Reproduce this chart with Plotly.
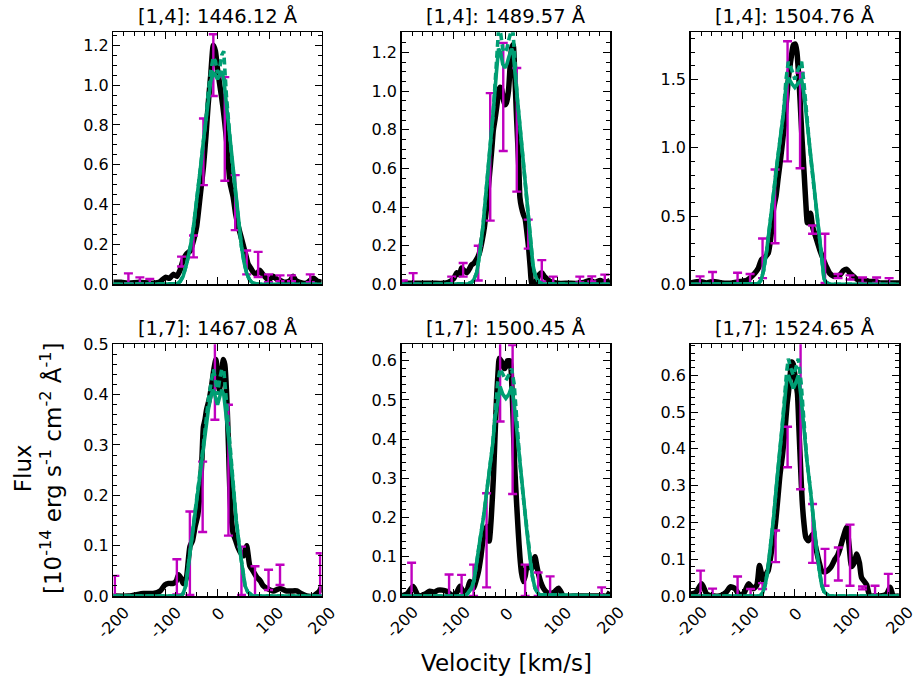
import plotly.graph_objects as go

W, H = 919, 683
BLACK = "black"
MAG = "#bf00bf"
GREEN = "#009e73"
FONT = "DejaVu Sans"

titles = ["[1,4]: 1446.12 Å", "[1,4]: 1489.57 Å", "[1,4]: 1504.76 Å",
          "[1,7]: 1467.08 Å", "[1,7]: 1500.45 Å", "[1,7]: 1524.65 Å"]
x_ticks = [-200, -100, 0, 100, 200]
x_tick_labels = ["-200", "-100", "0", "100", "200"]

# ---------------- Panel 1: [1,4] 1446.12 ----------------
p1_vel = [-200, -185, -170, -150, -130, -112, -100, -92, -85, -78, -72, -66, -60, -52, -46, -40, -33, -27, -22, -18,
          -13, -8, -4, 0, 5, 10, 14, 19, 24, 30, 35, 40, 45, 50, 55, 59, 64, 69, 75, 81, 87, 94, 100, 107, 114, 120,
          130, 140, 145, 150, 158, 170, 184, 192, 200]
p1_flux = [0.01, 0.01, 0.005, 0.01, 0.005, 0.01, 0.035, 0.03, 0.05, 0.04, 0.07, 0.12, 0.15, 0.17, 0.22, 0.29, 0.45,
           0.59, 0.75, 0.9, 1.05, 1.2, 1.17, 1.08, 0.99, 0.9, 0.81, 0.68, 0.51, 0.44, 0.35, 0.29, 0.24, 0.19, 0.14,
           0.1, 0.08, 0.06, 0.05, 0.07, 0.05, 0.03, 0.025, 0.04, 0.025, 0.02, 0.01, 0.02, 0.04, 0.02, 0.01, 0.005,
           0.03, 0.015, 0.01]
p1_err_vel = [-171, -149, -130, -69, -46, -27, -8, 14, 34, 56, 78, 98, 120, 142, 178]
p1_err_flux = [0.03, 0.02, 0.015, 0.114, 0.19, 0.665, 1.1, 0.78, 0.41, 0.11, 0.1, 0.03, 0.03, 0.03, 0.03]
p1_err = [0.025, 0.015, 0.012, 0.025, 0.055, 0.167, 0.155, 0.26, 0.138, 0.06, 0.063, 0.02, 0.015, 0.015, 0.02]
p1_mod_vel = [-200, -85, -78, -72, -66, -59, -52, -46, -40, -37, -32, -27, -22, -18, -13, -8, -4, 0, 4, 8, 12, 17,
              22, 27, 32, 37, 42, 46, 51, 56, 61, 66, 72, 80, 200]
p1_mod_solid = [0, 0, 0.003, 0.013, 0.04, 0.105, 0.19, 0.29, 0.41, 0.49, 0.6, 0.72, 0.83, 0.94, 1.02, 1.06, 1.05,
                1.03, 1.05, 1.07, 1.03, 0.9, 0.78, 0.64, 0.52, 0.39, 0.28, 0.19, 0.11, 0.055, 0.025, 0.01, 0.004, 0, 0]
p1_mod_dash = [0, 0, 0.003, 0.013, 0.04, 0.105, 0.19, 0.29, 0.41, 0.49, 0.6, 0.72, 0.83, 0.96, 1.07, 1.14, 1.12,
               1.06, 1.08, 1.15, 1.17, 0.95, 0.78, 0.64, 0.52, 0.39, 0.28, 0.19, 0.11, 0.055, 0.025, 0.01, 0.004, 0, 0]

# ---------------- Panel 2: [1,4] 1489.57 ----------------
p2_vel = [-200, -180, -160, -140, -120, -110, -100, -94, -89, -85, -80, -75, -70, -66, -61, -56, -51, -46, -41, -37,
          -32, -27, -24, -21, -17, -14, -11, -8, -5, -2, 1, 5, 8, 11, 14, 17, 20, 22, 25, 27, 30, 34, 37, 40, 44, 47,
          50, 54, 59, 64, 69, 74, 78, 85, 91, 100, 120, 140, 150, 162, 170, 181, 190, 200]
p2_flux = [0.005, 0.005, 0.005, 0.005, 0.005, 0.01, 0.03, 0.06, 0.05, 0.085, 0.07, 0.06, 0.08, 0.1, 0.11, 0.13, 0.16,
           0.22, 0.3, 0.4, 0.55, 0.7, 0.8, 0.85, 0.93, 1.0, 1.02, 1.01, 0.96, 0.93, 0.94, 1.0, 1.12, 1.22, 1.24, 1.1,
           0.9, 0.78, 0.6, 0.45, 0.4, 0.36, 0.34, 0.28, 0.18, 0.08, 0.0, 0.0, 0.02, 0.05, 0.06, 0.04, 0.03, 0.015,
           0.01, 0.005, 0.005, 0.005, 0.01, 0.02, 0.01, 0.02, 0.01, 0.02]
p2_err_vel = [-197, -178, -104, -82, -53, -30, -5, 21, 43, 69, 91, 142, 165, 190]
p2_err_flux = [0.01, 0.03, 0.02, 0.075, 0.11, 0.66, 0.97, 0.8, 0.26, 0.07, 0.02, 0.025, 0.028, 0.025]
p2_err = [0.01, 0.028, 0.02, 0.035, 0.09, 0.33, 0.28, 0.32, 0.075, 0.055, 0.02, 0.015, 0.013, 0.025]
p2_mod_vel = [-200, -80, -72, -66, -62, -56, -50, -44, -37, -30, -24, -18, -14, -10, -6, -2, 2, 6, 11, 14, 18, 22,
              27, 33, 40, 46, 52, 56, 59, 64, 70, 200]
p2_mod_solid = [0, 0, 0.003, 0.01, 0.02, 0.06, 0.16, 0.3, 0.5, 0.72, 0.9, 1.1, 1.22, 1.2, 1.14, 1.12, 1.14, 1.18,
                1.22, 1.2, 1.08, 0.96, 0.82, 0.65, 0.44, 0.26, 0.1, 0.05, 0.03, 0.01, 0.003, 0]
p2_mod_dash = [0, 0, 0.003, 0.01, 0.02, 0.06, 0.16, 0.3, 0.5, 0.72, 0.9, 1.15, 1.32, 1.3, 1.22, 1.2, 1.22, 1.27,
               1.32, 1.3, 1.1, 0.96, 0.82, 0.65, 0.44, 0.26, 0.1, 0.05, 0.03, 0.01, 0.003, 0]

# ---------------- Panel 3: [1,4] 1504.76 ----------------
p3_vel = [-200, -182, -170, -157, -140, -120, -105, -92, -85, -77, -70, -64, -57, -51, -46, -41, -36, -32, -27, -22,
          -17, -12, -7, -3, 1, 4, 7, 10, 14, 18, 21, 24, 27, 30, 34, 39, 44, 48, 55, 61, 67, 74, 80, 87, 93, 100,
          106, 112, 118, 125, 135, 144, 155, 164, 175, 189, 200]
p3_flux = [0.01, 0.02, 0.01, 0.02, 0.01, 0.01, 0.02, 0.03, 0.05, 0.08, 0.12, 0.18, 0.2, 0.23, 0.35, 0.55, 0.65, 0.78,
           0.93, 1.1, 1.3, 1.52, 1.66, 1.75, 1.76, 1.7, 1.55, 1.35, 1.05, 0.8, 0.6, 0.45, 0.5, 0.52, 0.42, 0.36, 0.3,
           0.25, 0.18, 0.125, 0.08, 0.06, 0.06, 0.07, 0.1, 0.11, 0.08, 0.06, 0.04, 0.03, 0.03, 0.02, 0.02, 0.01,
           0.01, 0.01, 0.01]
p3_err_vel = [-182, -158, -110, -86, -62, -38, -14, 10, 34, 58, 83, 106, 130, 157, 181]
p3_err_flux = [0.03, 0.045, 0.045, 0.04, 0.19, 0.57, 1.34, 1.2, 0.4, 0.19, 0.06, 0.05, 0.03, 0.03, 0.025]
p3_err = [0.028, 0.045, 0.04, 0.035, 0.145, 0.27, 0.44, 0.35, 0.03, 0.18, 0.015, 0.015, 0.02, 0.02, 0.02]
p3_mod_vel = [-200, -75, -70, -65, -60, -54, -48, -41, -35, -28, -22, -17, -12.5, -6, 0, 6, 13, 18, 23, 29, 35.5,
              42, 48, 52, 56, 60, 64, 70, 200]
p3_mod_solid = [0, 0, 0.005, 0.03, 0.1, 0.25, 0.42, 0.66, 0.86, 1.05, 1.25, 1.45, 1.51, 1.47, 1.44, 1.47, 1.5, 1.38,
                1.2, 0.98, 0.75, 0.52, 0.3, 0.15, 0.04, 0.015, 0.005, 0, 0]
p3_mod_dash = [0, 0, 0.005, 0.03, 0.1, 0.25, 0.42, 0.66, 0.86, 1.05, 1.25, 1.5, 1.63, 1.57, 1.5, 1.57, 1.63, 1.45,
               1.2, 0.98, 0.75, 0.52, 0.3, 0.15, 0.04, 0.015, 0.005, 0, 0]

# ---------------- Panel 4: [1,7] 1467.08 ----------------
p4_vel = [-200, -170, -142, -123, -110, -101, -94, -85, -79, -75, -70, -66, -62, -59, -53, -48, -43, -38, -34, -30,
          -27, -24, -21, -16, -11, -7, -3, 0, 3.5, 7, 11, 14, 17.6, 21, 24, 27, 30, 35, 40, 45, 50, 53, 56, 59, 62,
          68, 75, 82, 88, 95, 107, 120, 133, 142, 152, 160, 171, 184, 196, 200]
p4_flux = [0.0, 0.0, 0.005, 0.005, 0.01, 0.022, 0.025, 0.025, 0.03, 0.042, 0.035, 0.025, 0.03, 0.04, 0.098, 0.11,
           0.138, 0.16, 0.2, 0.27, 0.336, 0.35, 0.37, 0.39, 0.42, 0.45, 0.47, 0.44, 0.41, 0.43, 0.47, 0.46, 0.4, 0.3,
           0.2, 0.15, 0.125, 0.11, 0.095, 0.085, 0.08, 0.09, 0.1, 0.08, 0.06, 0.05, 0.038, 0.03, 0.02, 0.015, 0.01,
           0.015, 0.01, 0.01, 0.01, 0.005, 0.0, 0.0, 0.01, 0.02]
p4_err_vel = [-197, -78, -53, -28.5, -5, 21, 46, 72, 98, 120, 197]
p4_err_flux = [0.02, 0.038, 0.085, 0.197, 0.45, 0.25, 0.05, 0.03, 0.032, 0.042, 0.043]
p4_err = [0.02, 0.035, 0.083, 0.07, 0.1, 0.13, 0.048, 0.029, 0.02, 0.02, 0.042]
p4_mod_vel = [-200, -70, -66, -61, -56, -50, -43, -35, -27, -17.6, -12, -8, -4, 0, 4, 8, 12, 17.6, 24, 30, 36, 43,
              48, 53, 58, 62, 68, 200]
p4_mod_solid = [0, 0, 0.005, 0.02, 0.06, 0.11, 0.16, 0.23, 0.3, 0.37, 0.4, 0.41, 0.395, 0.38, 0.395, 0.41, 0.4,
                0.35, 0.29, 0.22, 0.15, 0.09, 0.05, 0.02, 0.008, 0.004, 0, 0]
p4_mod_dash = [0, 0, 0.005, 0.02, 0.06, 0.11, 0.16, 0.23, 0.3, 0.39, 0.43, 0.45, 0.43, 0.4, 0.43, 0.45, 0.45, 0.38,
               0.29, 0.22, 0.15, 0.09, 0.05, 0.02, 0.008, 0.004, 0, 0]

# ---------------- Panel 5: [1,7] 1500.45 ----------------
p5_vel = [-200, -190, -178, -168, -155, -146, -138, -130, -122, -114, -107, -101, -94, -88, -82, -78, -73, -69, -65,
          -62, -57, -53, -48, -43, -37, -32, -28, -24, -21, -18, -15, -12.5, -9, -6, -3, 0, 3, 5, 8, 10, 12, 14, 17,
          21, 24, 27, 30, 33.6, 37, 40, 45, 50, 53, 56, 59, 62, 67, 72, 78, 85, 93, 101, 106, 110, 130, 160, 185,
          194, 200]
p5_flux = [0, 0.005, 0.024, 0.0, 0.005, 0.012, 0.01, 0.015, 0.015, 0.012, 0.005, 0.0, 0.01, 0.025, 0.01, 0.005,
           0.02, 0.037, 0.03, 0.02, 0.04, 0.06, 0.1, 0.151, 0.177, 0.14, 0.2, 0.3, 0.4, 0.5, 0.57, 0.606, 0.6, 0.59,
           0.58, 0.585, 0.6, 0.6, 0.6, 0.58, 0.52, 0.45, 0.33, 0.228, 0.16, 0.1, 0.06, 0.037, 0.05, 0.07, 0.075,
           0.07, 0.085, 0.1, 0.08, 0.06, 0.035, 0.02, 0.01, 0.005, 0.01, 0.02, 0.01, 0.0, 0.0, 0.0, 0.0, 0.0, 0.01]
p5_err_vel = [-181, -109, -85, -62, -37, -11, 13, 37, 62, 85, 184]
p5_err_flux = [0.043, 0.028, 0.027, 0.04, 0.142, 0.55, 0.45, 0.04, 0.03, 0.025, 0.011]
p5_err = [0.042, 0.027, 0.027, 0.04, 0.12, 0.105, 0.19, 0.04, 0.03, 0.025, 0.011]
p5_mod_vel = [-200, -82, -74, -66, -61, -56, -50, -43, -37, -30, -25, -21, -16, -11, -6, 0, 6, 11, 16, 21, 27,
              33.6, 40, 46, 51, 56, 61, 66, 200]
p5_mod_solid = [0, 0, 0.005, 0.02, 0.04, 0.08, 0.14, 0.2, 0.26, 0.33, 0.39, 0.45, 0.5, 0.534, 0.515, 0.504, 0.515,
                0.534, 0.49, 0.42, 0.34, 0.25, 0.17, 0.1, 0.05, 0.02, 0.008, 0.003, 0]
p5_mod_dash = [0, 0, 0.005, 0.02, 0.04, 0.08, 0.14, 0.2, 0.26, 0.33, 0.39, 0.46, 0.54, 0.58, 0.565, 0.55, 0.565,
               0.58, 0.54, 0.44, 0.34, 0.25, 0.17, 0.1, 0.05, 0.02, 0.008, 0.003, 0]

# ---------------- Panel 6: [1,7] 1524.65 ----------------
p6_vel = [-200, -190, -179, -169, -155, -144, -132, -124, -115, -105, -97, -89, -80, -73, -68, -64, -60, -55, -51,
          -45, -38, -33, -28.5, -24, -19, -15, -12.5, -9, -6, -3, 0, 3, 5, 8, 11, 14, 17.6, 21, 26, 31, 35.5, 39, 42,
          47, 51.5, 58, 64, 70, 77, 82, 87, 93, 99.5, 104, 109, 114, 119, 124, 128, 133, 138, 144, 155, 164, 176,
          183, 189, 200]
p6_flux = [0.005, 0.01, 0.033, 0.005, 0.0, 0.0, 0.01, 0.025, 0.02, 0.0, 0.01, 0.033, 0.02, 0.03, 0.083, 0.06, 0.04,
           0.06, 0.07, 0.12, 0.187, 0.26, 0.33, 0.38, 0.45, 0.52, 0.55, 0.6, 0.636, 0.63, 0.6, 0.57, 0.55, 0.45,
           0.35, 0.26, 0.196, 0.16, 0.15, 0.16, 0.169, 0.14, 0.12, 0.09, 0.069, 0.065, 0.07, 0.08, 0.1, 0.11, 0.13,
           0.16, 0.187, 0.14, 0.08, 0.09, 0.114, 0.09, 0.05, 0.04, 0.03, 0.0, 0.0, 0.0, 0.005, 0.024, 0.0, 0.0]
p6_err_vel = [-181, -158, -110, -85, -62, -37, -14, 11, 34, 58, 83.5, 106, 130, 154, 179.5]
p6_err_flux = [0.035, 0.01, 0.027, 0.01, 0.027, 0.135, 0.405, 0.49, 0.17, 0.078, 0.087, 0.111, 0.022, 0.014, 0.03]
p6_err = [0.034, 0.01, 0.026, 0.009, 0.008, 0.043, 0.055, 0.2, 0.08, 0.05, 0.045, 0.083, 0.004, 0.014, 0.03]
p6_mod_vel = [-200, -67, -62, -57, -52, -48, -41, -35, -25, -15.7, -12.5, -8, -3, 2, 6.7, 12, 17.6, 23, 29, 35, 42,
              47, 51.5, 56, 61, 66, 200]
p6_mod_solid = [0, 0, 0.008, 0.03, 0.07, 0.12, 0.21, 0.305, 0.45, 0.586, 0.6, 0.58, 0.564, 0.58, 0.6, 0.54, 0.45,
                0.37, 0.3, 0.21, 0.123, 0.07, 0.03, 0.012, 0.005, 0, 0]
p6_mod_dash = [0, 0, 0.008, 0.03, 0.07, 0.12, 0.21, 0.305, 0.45, 0.61, 0.645, 0.62, 0.6, 0.62, 0.645, 0.58, 0.46,
               0.37, 0.3, 0.21, 0.123, 0.07, 0.03, 0.012, 0.005, 0, 0]

y_max = [1.265, 1.305, 1.845, 0.5, 0.642, 0.684]
y_dtick = [0.2, 0.2, 0.5, 0.1, 0.1, 0.1]
y_minor = [0.05, 0.05, 0.1, 0.02, 0.02, 0.02]

panels = [
    (p1_vel, p1_flux, p1_err_vel, p1_err_flux, p1_err, p1_mod_vel, p1_mod_solid, p1_mod_dash),
    (p2_vel, p2_flux, p2_err_vel, p2_err_flux, p2_err, p2_mod_vel, p2_mod_solid, p2_mod_dash),
    (p3_vel, p3_flux, p3_err_vel, p3_err_flux, p3_err, p3_mod_vel, p3_mod_solid, p3_mod_dash),
    (p4_vel, p4_flux, p4_err_vel, p4_err_flux, p4_err, p4_mod_vel, p4_mod_solid, p4_mod_dash),
    (p5_vel, p5_flux, p5_err_vel, p5_err_flux, p5_err, p5_mod_vel, p5_mod_solid, p5_mod_dash),
    (p6_vel, p6_flux, p6_err_vel, p6_err_flux, p6_err, p6_mod_vel, p6_mod_solid, p6_mod_dash),
]

# layout geometry (window pixels)
col_px = [(113.3, 321.7), (401.7, 610.0), (690.7, 899.0)]
row_px = [(32.3, 284.3), (344.3, 596.0)]


def px_x(px):
    return px / W


def px_y(px):
    return 1 - px / H


fig = go.Figure()
layout = dict(
    width=W, height=H, margin=dict(l=0, r=0, t=0, b=0, autoexpand=False),
    plot_bgcolor="white", paper_bgcolor="white",
    font=dict(family=FONT, color="black", size=16),
    showlegend=False, hovermode=False,
)
annotations = []

for i, (bv, bf, ev, ey, ee, mv, ms, md) in enumerate(panels):
    r, c = divmod(i, 3)
    xa = "x" if i == 0 else f"x{i+1}"
    ya = "y" if i == 0 else f"y{i+1}"
    fig.add_trace(go.Scatter(x=bv, y=bf, mode="lines", xaxis=xa, yaxis=ya,
                             line=dict(color=BLACK, width=5.5, shape="spline", smoothing=0.6)))
    fig.add_trace(go.Scatter(x=ev, y=ey, mode="markers", xaxis=xa, yaxis=ya,
                             marker=dict(size=1, color="rgba(0,0,0,0)"),
                             error_y=dict(type="data", array=ee, color=MAG, thickness=2.4, width=4.5)))
    fig.add_trace(go.Scatter(x=mv, y=ms, mode="lines", xaxis=xa, yaxis=ya,
                             line=dict(color=GREEN, width=3.6)))
    fig.add_trace(go.Scatter(x=mv, y=md, mode="lines", xaxis=xa, yaxis=ya,
                             line=dict(color=GREEN, width=3.6, dash="7px,4px")))

    x0, x1 = col_px[c]
    y0, y1 = row_px[r]
    xdom = [px_x(x0), px_x(x1)]
    ydom = [px_y(y1), px_y(y0)]
    common = dict(ticks="inside", ticklen=7, tickwidth=1, tickcolor="black",
                  showline=True, linecolor="black", linewidth=1.5, mirror="ticks",
                  showgrid=False, zeroline=False, automargin=False)
    layout["xaxis" if i == 0 else f"xaxis{i+1}"] = dict(
        domain=xdom, anchor=ya, range=[-200, 200], tick0=0, dtick=100, showticklabels=False,
        minor=dict(dtick=20, tick0=0, ticks="inside", ticklen=4, tickcolor="black", showgrid=False),
        **common)
    layout["yaxis" if i == 0 else f"yaxis{i+1}"] = dict(
        domain=ydom, anchor=xa, range=[0, y_max[i]], tick0=0, dtick=y_dtick[i], tickformat=".1f",
        tickfont=dict(size=16, family=FONT, color="black"),
        minor=dict(dtick=y_minor[i], tick0=0, ticks="inside", ticklen=4, tickcolor="black", showgrid=False),
        **common)

    # panel title
    annotations.append(dict(text=titles[i], xref="paper", yref="paper", x=px_x((x0 + x1) / 2),
                            y=px_y(y0 - 15.5), xanchor="center", yanchor="middle", showarrow=False,
                            font=dict(size=19.5, family=FONT, color="black")))
    # rotated x tick labels on bottom row
    if r == 1:
        shifts = {1: 18, 3: 24, 4: 26}
        for tv, tl in zip(x_ticks, x_tick_labels):
            annotations.append(dict(text=tl, xref=xa, yref="paper", x=tv, y=px_y(y1),
                                    yshift=-shifts[len(tl)], xanchor="center", yanchor="middle",
                                    textangle=-45, showarrow=False,
                                    font=dict(size=16, family=FONT, color="black")))

annotations.append(dict(text="Velocity [km/s]", xref="paper", yref="paper", x=px_x(506), y=px_y(663),
                        xanchor="center", yanchor="middle", showarrow=False,
                        font=dict(size=23, family=FONT, color="black")))
annotations.append(dict(text="Flux<br>[10<sup>-14</sup> erg s<sup>-1</sup> cm<sup>-2</sup> Å<sup>-1</sup>]",
                        xref="paper", yref="paper", x=px_x(38), y=px_y(468), xanchor="center", yanchor="middle",
                        textangle=-90, showarrow=False, align="center",
                        font=dict(size=23, family=FONT, color="black")))
layout["annotations"] = annotations
fig.update_layout(**layout)
# remove the browser's default 8px page margin so the figure fills the window exactly
fig.write_html("out.html", config={"displayModeBar": False, "staticPlot": True},
               post_script="document.body.style.margin='0';")
